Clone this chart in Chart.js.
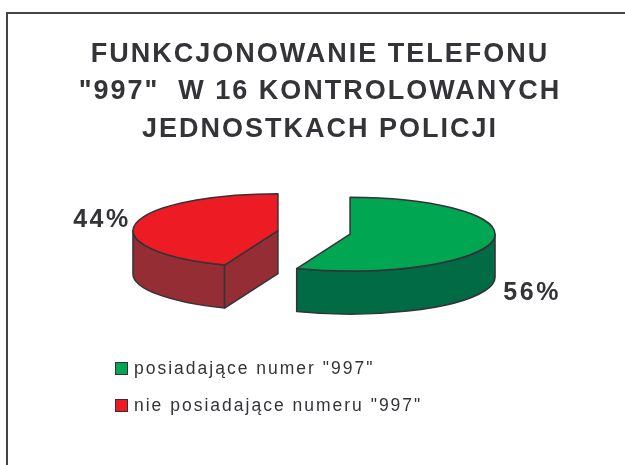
<!DOCTYPE html>
<html>
<head>
<meta charset="utf-8">
<script src="https://cdn.jsdelivr.net/npm/chart.js@4.4.1/dist/chart.umd.min.js"></script>
<style>
  html, body { margin: 0; padding: 0; width: 625px; height: 465px; overflow: hidden; background: #fff; }
  .frame { position: absolute; left: 6px; top: 12px; width: 700px; height: 500px;
           border-left: 2px solid #444; border-top: 2px solid #444; }
  #chart { position: absolute; left: 10px; top: 0; }
  .legend { position: absolute; left: 115px; top: 359px; font-family: "Liberation Sans", Arial, sans-serif;
            font-size: 17.5px; letter-spacing: 2px; color: #333338; }
  .legend-item { display: flex; align-items: center; height: 18px; margin-bottom: 19.6px; white-space: nowrap; }
  .legend-box { width: 11px; height: 11px; border: 1px solid #333; margin-right: 6px; flex: none; }
</style>
</head>
<body>
<div class="frame"></div>
<canvas id="chart" width="620" height="465"></canvas>
<div class="legend" id="legend"></div>

<script>
// dane wykresu
const titleLines = ['FUNKCJONOWANIE TELEFONU', '"997"  W 16 KONTROLOWANYCH', 'JEDNOSTKACH POLICJI']
const categories = ['posiadające numer "997"', 'nie posiadające numeru "997"']
const values = [56, 44]
const topColors = ['#00A651', '#ED1C24']
const sideColors = ['#006B45', '#952D35']

// parametry efektu 3D
const TILT = 0.255
const DEPTH = 43
const EXPLODE = 36.7
const SHIFT_X = -6
const OUTLINE = '#333338'

/**
 * Rysuje efekt 3D wycinków (boki, obrys, etykiety)
 */
const pie3d = {
  id: 'pie3d',
  beforeDraw(chart) {
    // szerszy rozstaw liter w tytule
    chart.ctx.letterSpacing = '2px'
  },
  afterDatasetUpdate(chart, args) {
    args.meta.data.forEach((arc) => {
      const mid = (arc.startAngle + arc.endAngle) / 2
      arc.baseY = arc.y
      arc.x += Math.cos(mid) * EXPLODE + SHIFT_X
      arc.y += Math.sin(mid) * EXPLODE
    })
  },
  beforeDatasetsDraw(chart) {
    const ctx = chart.ctx
    const arcs = chart.getDatasetMeta(0).data
    const cy0 = arcs[0].baseY

    ctx.save()
    ctx.letterSpacing = '0px'
    ctx.lineWidth = 1.5
    ctx.strokeStyle = OUTLINE
    ctx.lineJoin = 'round'
    arcs.forEach((arc, i) => {
      const R = arc.outerRadius
      const yc = cy0 + (arc.y - cy0) * TILT
      const s = arc.startAngle
      const e = arc.endAngle
      ctx.fillStyle = sideColors[i]

      // sciana zewnetrzna (widoczna dolna polowa elipsy)
      for (let n = -1; n <= 1; n++) {
        const lo = Math.max(s, 2 * Math.PI * n)
        const hi = Math.min(e, Math.PI + 2 * Math.PI * n)
        if (hi <= lo) continue
        ctx.beginPath()
        ctx.ellipse(arc.x, yc, R, R * TILT, 0, lo, hi)
        ctx.ellipse(arc.x, yc + DEPTH, R, R * TILT, 0, hi, lo, true)
        ctx.closePath()
        ctx.fill()
        ctx.stroke()
      }

      // sciany promieniowe
      const radial = []
      if (Math.sin(s - Math.PI / 2) > 1e-6) radial.push(s)
      if (Math.sin(e + Math.PI / 2) > 1e-6) radial.push(e)
      radial.forEach((a) => {
        const px = arc.x + R * Math.cos(a)
        const py = yc + R * TILT * Math.sin(a)
        ctx.beginPath()
        ctx.moveTo(arc.x, yc)
        ctx.lineTo(px, py)
        ctx.lineTo(px, py + DEPTH)
        ctx.lineTo(arc.x, yc + DEPTH)
        ctx.closePath()
        ctx.fill()
        ctx.stroke()
      })
    })
    ctx.restore()

    // splaszczenie gornej powierzchni
    ctx.save()
    ctx.translate(0, cy0)
    ctx.scale(1, TILT)
    ctx.translate(0, -cy0)
  },
  afterDatasetsDraw(chart) {
    const ctx = chart.ctx
    ctx.restore()
    const arcs = chart.getDatasetMeta(0).data
    const cy0 = arcs[0].baseY

    ctx.save()
    ctx.lineWidth = 1.5
    ctx.strokeStyle = OUTLINE
    ctx.lineJoin = 'round'
    arcs.forEach((arc) => {
      const R = arc.outerRadius
      const yc = cy0 + (arc.y - cy0) * TILT
      ctx.beginPath()
      ctx.moveTo(arc.x, yc)
      ctx.ellipse(arc.x, yc, R, R * TILT, 0, arc.startAngle, arc.endAngle)
      ctx.closePath()
      ctx.stroke()
    })

    // etykiety procentowe
    ctx.font = 'bold 25px "Liberation Sans", Arial, sans-serif'
    ctx.letterSpacing = '2.5px'
    ctx.fillStyle = '#333338'
    ctx.textAlign = 'center'
    ctx.textBaseline = 'middle'
    arcs.forEach((arc, i) => {
      const R = arc.outerRadius * 1.25
      const mid = (arc.startAngle + arc.endAngle) / 2
      const yc = cy0 + (arc.y - cy0) * TILT
      const lx = arc.x + R * Math.cos(mid)
      let ly = yc + R * TILT * Math.sin(mid)
      ly += Math.sin(mid) > 0 ? DEPTH + 7 : -2
      ctx.fillText(values[i] + '%', lx + (Math.cos(mid) > 0 ? 4 : 2), ly)
    })
    ctx.restore()
  },
}

function buildLegend() {
  const legend = document.getElementById('legend')
  let html = ''
  categories.forEach((name, i) => {
    html += `<div class="legend-item"><span class="legend-box" style="background:${topColors[i]}"></span>${name}</div>`
  })
  legend.innerHTML = html
}

function initializeChart() {
  const ctx = document.getElementById('chart')
  new Chart(ctx, {
    type: 'pie',
    data: {
      labels: categories,
      datasets: [
        {
          data: values,
          backgroundColor: topColors,
          borderWidth: 0,
          clip: false,
        },
      ],
    },
    options: {
      responsive: false,
      animation: false,
      events: [],
      radius: 145,
      layout: {
        padding: { left: 0, right: 0, top: 0, bottom: 158 },
      },
      plugins: {
        title: {
          display: true,
          text: titleLines,
          color: '#333338',
          font: { family: '"Liberation Sans", Arial, sans-serif', size: 27, weight: 'bold', lineHeight: 1.38 },
          padding: { top: 36, bottom: 10 },
        },
        legend: { display: false },
        tooltip: { enabled: false },
      },
    },
    plugins: [pie3d],
  })
}

buildLegend()
initializeChart()
</script>
</body>
</html>
